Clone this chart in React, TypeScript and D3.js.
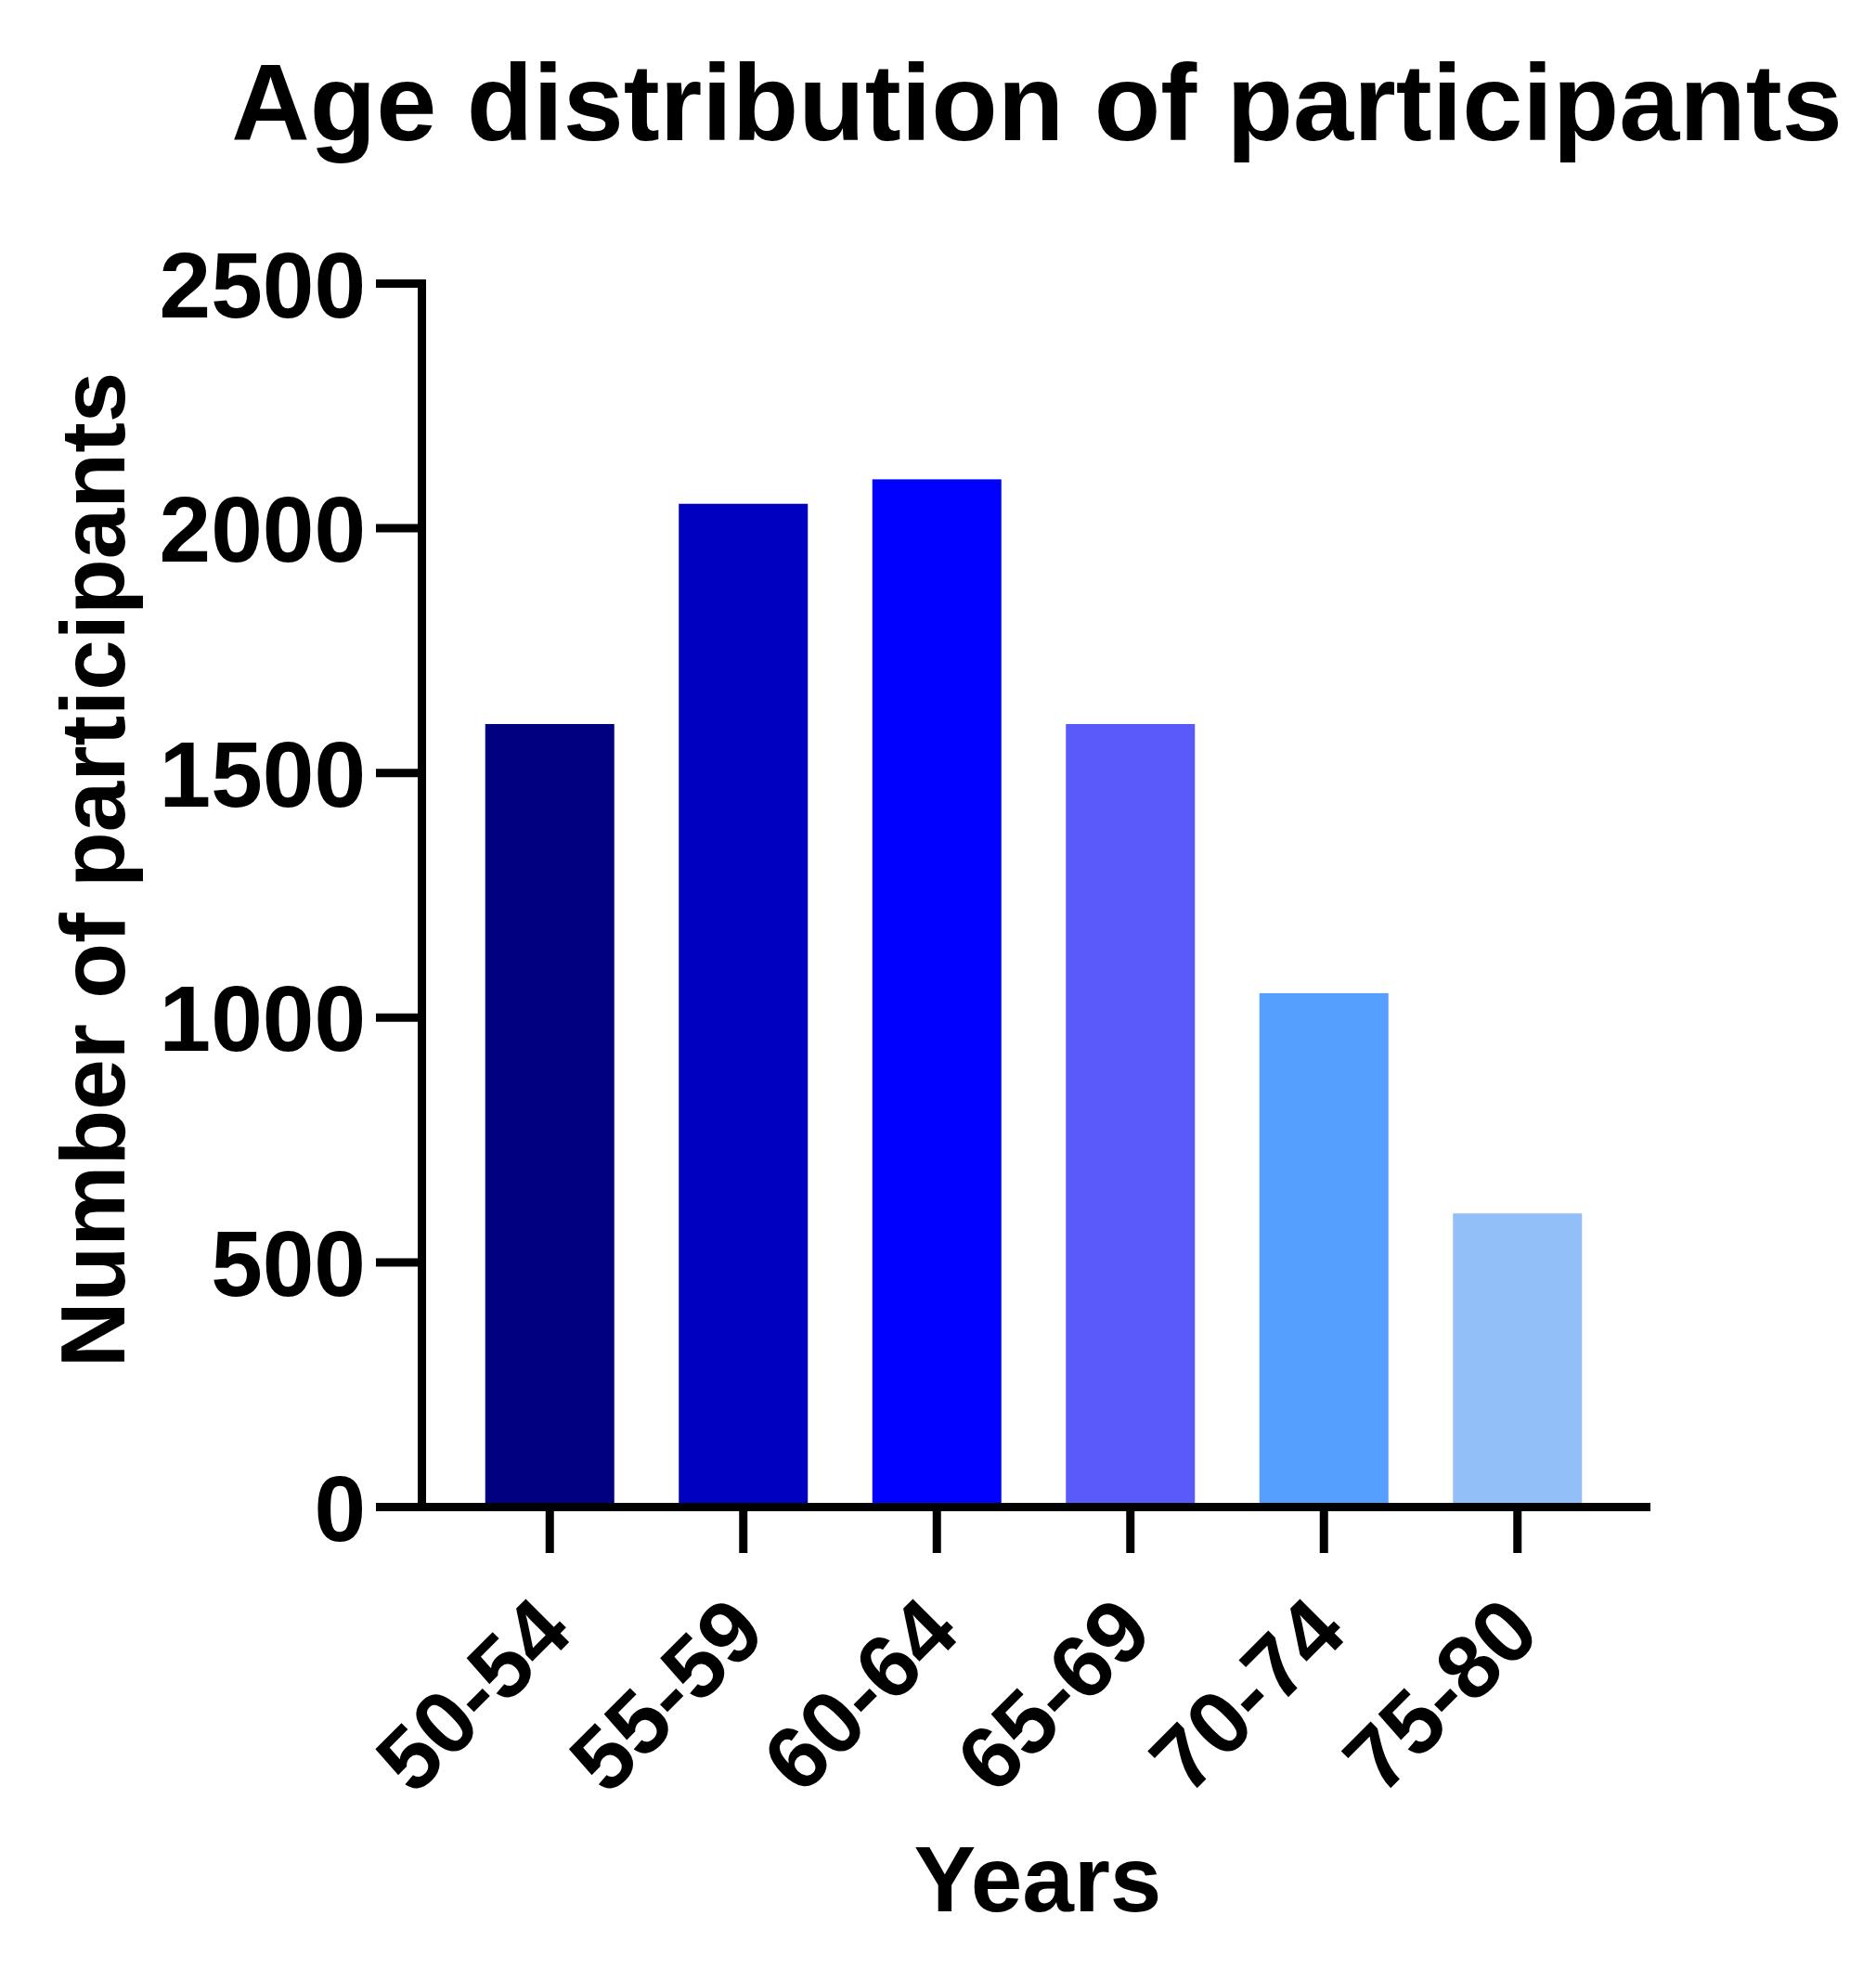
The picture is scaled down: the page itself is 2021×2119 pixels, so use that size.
import * as d3 from 'd3';

const categories = ['50-54', '55-59', '60-64', '65-69', '70-74', '75-80'];
const counts = [1600, 2050, 2100, 1600, 1050, 600];
const barColors = ['#000080', '#0000C0', '#0000FF', '#5A5AFA', '#55A0FF', '#93BFF9'];
const yTicks = [0, 500, 1000, 1500, 2000, 2500];

const W = 2021;
const H = 2119;
const FONT = '"Liberation Sans", Arial, sans-serif';

export default function App() {
    const x = d3
        .scaleBand<string>()
        .domain(categories)
        .range([488, 1739])
        .paddingInner(1 / 3)
        .paddingOuter(1 / 6);
    const y = d3.scaleLinear().domain([0, 2500]).range([1623.5, 305.5]);

    const axisX = 454.5;
    const axisY = y(0);

    return (
        <svg
            width={W}
            height={H}
            style={{ position: 'absolute', left: 0, top: 0, background: '#fff' }}
            fontFamily={FONT}
            fontWeight="bold"
        >
            <text x={1117} y={151} textAnchor="middle" fontSize={117}>
                Age distribution of participants
            </text>

            {categories.map((c, i) => (
                <rect
                    key={c}
                    x={x(c)}
                    y={y(counts[i])}
                    width={x.bandwidth()}
                    height={axisY - y(counts[i])}
                    fill={barColors[i]}
                />
            ))}

            {/* y axis */}
            <line x1={axisX} x2={axisX} y1={301} y2={axisY + 4.5} stroke="#000" strokeWidth={9} />
            {yTicks.map((t) => (
                <g key={t}>
                    <line x1={405} x2={axisX} y1={y(t)} y2={y(t)} stroke="#000" strokeWidth={9} />
                    <text x={394} y={y(t)} dy="0.36em" textAnchor="end" fontSize={100}>
                        {t}
                    </text>
                </g>
            ))}
            <text transform={`translate(134,937) rotate(-90)`} textAnchor="middle" fontSize={98}>
                Number of participants
            </text>

            {/* x axis */}
            <line x1={405} x2={1778} y1={axisY} y2={axisY} stroke="#000" strokeWidth={9} />
            {categories.map((c) => {
                const cx = (x(c) ?? 0) + x.bandwidth() / 2;
                return (
                    <g key={c}>
                        <line x1={cx} x2={cx} y1={axisY + 4.5} y2={1673} stroke="#000" strokeWidth={9} />
                        <text
                            transform={`translate(${cx + 3},1738) rotate(-45)`}
                            dy="0.36em"
                            textAnchor="end"
                            fontSize={96}
                        >
                            {c}
                        </text>
                    </g>
                );
            })}
            <text x={1118} y={2059} textAnchor="middle" fontSize={100}>
                Years
            </text>
        </svg>
    );
}
